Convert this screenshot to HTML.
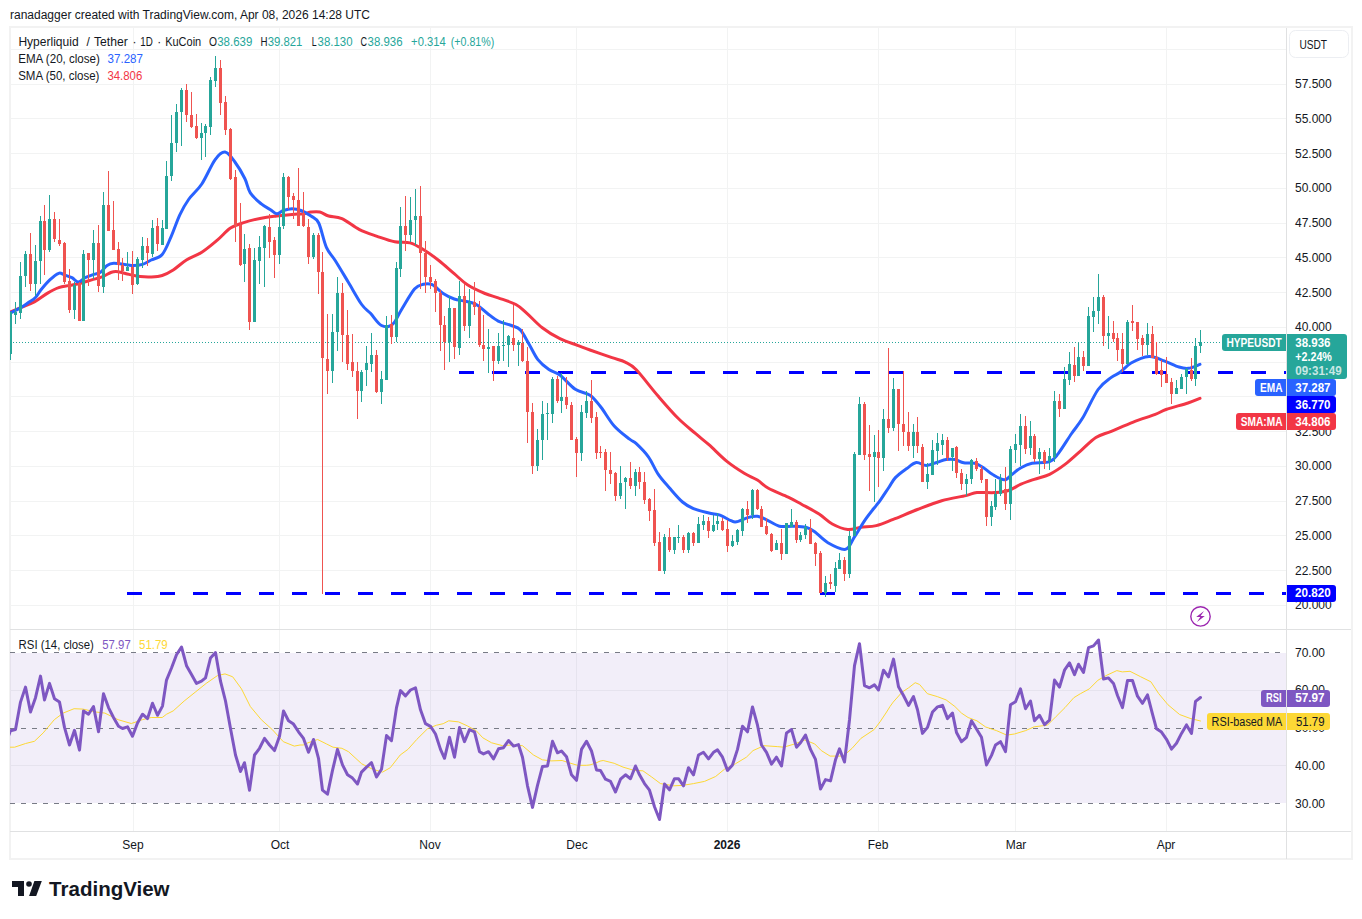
<!DOCTYPE html>
<html><head><meta charset="utf-8"><style>
*{margin:0;padding:0;box-sizing:border-box}
html,body{width:1362px;height:919px;background:#fff;overflow:hidden;font-family:"Liberation Sans",sans-serif;color:#131722}
.abs{position:absolute;white-space:nowrap}
#frame{position:absolute;left:9px;top:26px;width:1344px;height:834px;border:2px solid #f2f2f2}
svg{position:absolute;left:0;top:0}
.ax{position:absolute;left:1295px;font-size:12px;height:16px;line-height:16px;color:#131722}
.lb{position:absolute;font-size:12px;line-height:16px;text-align:center;white-space:nowrap}
.lg{position:absolute;font-size:12px;line-height:16px;white-space:nowrap;color:#131722}
.tm{position:absolute;top:837px;font-size:12px;line-height:16px;white-space:nowrap;transform:translateX(-50%)}
</style></head><body>
<div class="abs" style="left:10px;top:7px;font-size:12px;line-height:16px;color:#131722">ranadagger created with TradingView.com, Apr 08, 2026 14:28 UTC</div>
<div id="frame"></div>
<svg width="1362" height="919" viewBox="0 0 1362 919" shape-rendering="auto">
<defs><clipPath id="cm"><rect x="10" y="28" width="1276" height="601"/></clipPath><clipPath id="cr"><rect x="10" y="630" width="1276" height="201"/></clipPath></defs>
<line x1="133.5" y1="28" x2="133.5" y2="831" stroke="#f2f3f3" stroke-width="1"/>
<line x1="279.5" y1="28" x2="279.5" y2="831" stroke="#f2f3f3" stroke-width="1"/>
<line x1="430.5" y1="28" x2="430.5" y2="831" stroke="#f2f3f3" stroke-width="1"/>
<line x1="576.5" y1="28" x2="576.5" y2="831" stroke="#f2f3f3" stroke-width="1"/>
<line x1="727.5" y1="28" x2="727.5" y2="831" stroke="#f2f3f3" stroke-width="1"/>
<line x1="878.5" y1="28" x2="878.5" y2="831" stroke="#f2f3f3" stroke-width="1"/>
<line x1="1015.5" y1="28" x2="1015.5" y2="831" stroke="#f2f3f3" stroke-width="1"/>
<line x1="1166.5" y1="28" x2="1166.5" y2="831" stroke="#f2f3f3" stroke-width="1"/>
<line x1="10" y1="605.5" x2="1286" y2="605.5" stroke="#f2f3f3" stroke-width="1"/>
<line x1="10" y1="570.5" x2="1286" y2="570.5" stroke="#f2f3f3" stroke-width="1"/>
<line x1="10" y1="535.5" x2="1286" y2="535.5" stroke="#f2f3f3" stroke-width="1"/>
<line x1="10" y1="501.5" x2="1286" y2="501.5" stroke="#f2f3f3" stroke-width="1"/>
<line x1="10" y1="466.5" x2="1286" y2="466.5" stroke="#f2f3f3" stroke-width="1"/>
<line x1="10" y1="431.5" x2="1286" y2="431.5" stroke="#f2f3f3" stroke-width="1"/>
<line x1="10" y1="396.5" x2="1286" y2="396.5" stroke="#f2f3f3" stroke-width="1"/>
<line x1="10" y1="362.5" x2="1286" y2="362.5" stroke="#f2f3f3" stroke-width="1"/>
<line x1="10" y1="327.5" x2="1286" y2="327.5" stroke="#f2f3f3" stroke-width="1"/>
<line x1="10" y1="292.5" x2="1286" y2="292.5" stroke="#f2f3f3" stroke-width="1"/>
<line x1="10" y1="257.5" x2="1286" y2="257.5" stroke="#f2f3f3" stroke-width="1"/>
<line x1="10" y1="223.5" x2="1286" y2="223.5" stroke="#f2f3f3" stroke-width="1"/>
<line x1="10" y1="188.5" x2="1286" y2="188.5" stroke="#f2f3f3" stroke-width="1"/>
<line x1="10" y1="153.5" x2="1286" y2="153.5" stroke="#f2f3f3" stroke-width="1"/>
<line x1="10" y1="118.5" x2="1286" y2="118.5" stroke="#f2f3f3" stroke-width="1"/>
<line x1="10" y1="84.5" x2="1286" y2="84.5" stroke="#f2f3f3" stroke-width="1"/>
<line x1="10" y1="49.5" x2="1286" y2="49.5" stroke="#f2f3f3" stroke-width="1"/>
<line x1="10" y1="690.5" x2="1286" y2="690.5" stroke="#f2f3f3" stroke-width="1"/>
<line x1="10" y1="765.5" x2="1286" y2="765.5" stroke="#f2f3f3" stroke-width="1"/>
<rect x="10" y="653" width="1276" height="150" fill="#7e57c2" fill-opacity="0.1"/>
<line x1="10" y1="652.5" x2="1286" y2="652.5" stroke="#787b86" stroke-width="1" stroke-dasharray="5,6"/>
<line x1="10" y1="728.5" x2="1286" y2="728.5" stroke="#787b86" stroke-width="1" stroke-dasharray="5,6"/>
<line x1="10" y1="803.5" x2="1286" y2="803.5" stroke="#787b86" stroke-width="1" stroke-dasharray="5,6"/>
<line x1="10" y1="629.5" x2="1351" y2="629.5" stroke="#e0e1e2" stroke-width="1"/>
<line x1="10" y1="831.5" x2="1351" y2="831.5" stroke="#e0e1e2" stroke-width="1"/>
<line x1="1286.5" y1="28" x2="1286.5" y2="859" stroke="#e0e1e2" stroke-width="1"/>
<g clip-path="url(#cm)">
<line x1="10" y1="342.5" x2="1222" y2="342.5" stroke="#26a69a" stroke-width="1" stroke-dasharray="1,2"/>
<line x1="459" y1="372.5" x2="1286" y2="372.5" stroke="#0000ff" stroke-width="3" stroke-dasharray="15,18"/>
<line x1="127" y1="593.5" x2="1286" y2="593.5" stroke="#0000ff" stroke-width="3" stroke-dasharray="15,18"/>
<path d="M4.00,314.50 C5.10,314.05 7.73,312.98 10.60,311.80 C13.47,310.62 17.23,309.05 21.20,307.40 C25.17,305.75 30.00,304.28 34.40,301.90 C38.80,299.52 43.55,295.48 47.60,293.10 C51.65,290.72 55.02,288.88 58.70,287.60 C62.38,286.32 66.03,286.13 69.70,285.40 C73.37,284.67 77.03,284.12 80.70,283.20 C84.37,282.28 88.03,281.00 91.70,279.90 C95.37,278.80 99.40,277.88 102.70,276.60 C106.00,275.32 108.93,273.02 111.50,272.20 C114.07,271.38 115.17,271.33 118.10,271.70 C121.03,272.07 125.42,273.58 129.10,274.40 C132.78,275.22 136.52,276.17 140.20,276.60 C143.88,277.03 147.53,277.18 151.20,277.00 C154.87,276.82 158.53,276.67 162.20,275.50 C165.87,274.33 169.17,272.58 173.20,270.00 C177.23,267.42 181.63,262.95 186.40,260.00 C191.17,257.05 196.65,255.60 201.80,252.30 C206.95,249.00 212.52,244.23 217.30,240.20 C222.08,236.17 226.10,231.03 230.50,228.10 C234.90,225.17 238.57,224.25 243.70,222.60 C248.83,220.95 255.80,219.30 261.30,218.20 C266.80,217.10 271.57,216.63 276.70,216.00 C281.83,215.37 287.68,214.77 292.10,214.40 C296.52,214.03 300.05,214.20 303.20,213.80 C306.35,213.40 308.23,212.30 311.00,212.00 C313.77,211.70 316.87,211.33 319.80,212.00 C322.73,212.67 324.92,214.90 328.60,216.00 C332.28,217.10 336.75,216.33 341.90,218.60 C347.05,220.87 353.63,226.65 359.50,229.60 C365.37,232.55 371.23,234.27 377.10,236.30 C382.97,238.33 389.20,240.70 394.70,241.80 C400.20,242.90 405.33,241.62 410.10,242.90 C414.87,244.18 418.52,246.57 423.30,249.50 C428.08,252.43 433.65,256.47 438.80,260.50 C443.95,264.53 449.43,269.67 454.20,273.70 C458.97,277.73 462.27,281.40 467.40,284.70 C472.53,288.00 479.87,291.30 485.00,293.50 C490.13,295.70 493.05,296.07 498.20,297.90 C503.35,299.73 511.12,301.93 515.90,304.50 C520.68,307.07 522.50,309.43 526.90,313.30 C531.30,317.17 536.80,323.47 542.30,327.70 C547.80,331.93 554.03,335.77 559.90,338.70 C565.77,341.63 572.48,343.42 577.50,345.30 C582.52,347.18 584.25,347.93 590.00,350.00 C595.75,352.07 606.13,355.68 612.00,357.70 C617.87,359.72 621.15,360.08 625.20,362.10 C629.25,364.12 630.78,364.10 636.30,369.80 C641.82,375.50 651.33,388.22 658.30,396.30 C665.27,404.38 671.87,412.07 678.10,418.30 C684.33,424.53 690.57,429.30 695.70,433.70 C700.83,438.10 703.75,440.12 708.90,444.70 C714.05,449.28 720.72,456.43 726.60,461.20 C732.48,465.97 739.07,470.17 744.20,473.30 C749.33,476.43 753.37,477.50 757.40,480.00 C761.43,482.50 763.27,485.45 768.40,488.30 C773.53,491.15 782.68,494.45 788.20,497.10 C793.72,499.75 796.35,501.37 801.50,504.20 C806.65,507.03 813.97,510.80 819.10,514.10 C824.23,517.40 827.53,521.43 832.30,524.00 C837.07,526.57 842.93,528.95 847.70,529.50 C852.47,530.05 856.13,527.95 860.90,527.30 C865.67,526.65 870.92,526.92 876.30,525.60 C881.68,524.28 886.35,522.08 893.20,519.40 C900.05,516.72 909.32,512.62 917.40,509.50 C925.48,506.38 933.62,503.02 941.70,500.70 C949.78,498.38 960.03,496.95 965.90,495.60 C971.77,494.25 972.13,493.10 976.90,492.60 C981.67,492.10 989.35,492.90 994.50,492.60 C999.65,492.30 1003.38,492.20 1007.80,490.80 C1012.22,489.40 1016.60,486.12 1021.00,484.20 C1025.40,482.28 1029.43,480.95 1034.20,479.30 C1038.97,477.65 1044.47,476.78 1049.60,474.30 C1054.73,471.82 1059.87,468.27 1065.00,464.40 C1070.13,460.53 1075.25,455.58 1080.40,451.10 C1085.55,446.62 1090.75,440.80 1095.90,437.50 C1101.05,434.20 1105.07,433.87 1111.30,431.30 C1117.53,428.73 1125.97,424.92 1133.30,422.10 C1140.63,419.28 1149.85,416.50 1155.30,414.40 C1160.75,412.30 1160.55,411.40 1166.00,409.50 C1171.45,407.60 1182.33,404.85 1188.00,403.00 C1193.67,401.15 1198.00,399.17 1200.00,398.40" fill="none" stroke="#f23645" stroke-width="3" stroke-linejoin="round" stroke-linecap="round"/>
<path d="M4.00,316.00 C5.10,315.48 7.73,314.33 10.60,312.90 C13.47,311.47 18.33,309.05 21.20,307.40 C24.07,305.75 25.42,304.65 27.80,303.00 C30.18,301.35 33.30,299.70 35.50,297.50 C37.70,295.30 38.62,292.73 41.00,289.80 C43.38,286.87 46.85,282.65 49.80,279.90 C52.75,277.15 56.30,274.15 58.70,273.30 C61.10,272.45 62.00,274.07 64.20,274.80 C66.40,275.53 69.52,276.50 71.90,277.70 C74.28,278.90 76.30,282.00 78.50,282.00 C80.70,282.00 82.53,278.97 85.10,277.70 C87.67,276.43 91.33,275.32 93.90,274.40 C96.47,273.48 98.30,273.68 100.50,272.20 C102.70,270.72 104.90,266.98 107.10,265.50 C109.30,264.02 110.77,263.48 113.70,263.30 C116.63,263.12 121.38,264.03 124.70,264.40 C128.02,264.77 130.65,265.50 133.60,265.50 C136.55,265.50 139.47,265.32 142.40,264.40 C145.33,263.48 147.90,261.65 151.20,260.00 C154.50,258.35 158.90,258.35 162.20,254.50 C165.50,250.65 168.07,243.50 171.00,236.90 C173.93,230.30 176.87,221.13 179.80,214.90 C182.73,208.67 184.93,204.65 188.60,199.50 C192.27,194.35 197.40,190.62 201.80,184.00 C206.20,177.38 211.13,165.12 215.00,159.80 C218.87,154.48 221.68,151.73 225.00,152.10 C228.32,152.47 231.60,157.60 234.90,162.00 C238.20,166.40 242.23,173.35 244.80,178.50 C247.37,183.65 247.55,188.67 250.30,192.90 C253.05,197.13 258.00,201.15 261.30,203.90 C264.60,206.65 267.53,207.75 270.10,209.40 C272.67,211.05 274.50,213.62 276.70,213.80 C278.90,213.98 280.73,211.35 283.30,210.50 C285.87,209.65 289.15,208.70 292.10,208.70 C295.05,208.70 297.85,209.28 301.00,210.50 C304.15,211.72 308.05,213.92 311.00,216.00 C313.95,218.08 316.13,217.78 318.70,223.00 C321.27,228.22 323.65,241.05 326.40,247.30 C329.15,253.55 331.52,254.63 335.20,260.50 C338.88,266.37 344.08,275.17 348.50,282.50 C352.92,289.83 358.03,299.37 361.70,304.50 C365.37,309.63 367.20,309.80 370.50,313.30 C373.80,316.80 377.83,323.65 381.50,325.50 C385.17,327.35 389.20,326.98 392.50,324.40 C395.80,321.82 397.63,315.88 401.30,310.00 C404.97,304.12 410.83,293.38 414.50,289.10 C418.17,284.82 420.35,285.03 423.30,284.30 C426.25,283.57 428.88,283.17 432.20,284.70 C435.52,286.23 439.53,291.12 443.20,293.50 C446.87,295.88 450.53,297.72 454.20,299.00 C457.87,300.28 461.53,300.28 465.20,301.20 C468.87,302.12 472.53,302.48 476.20,304.50 C479.87,306.52 483.53,310.53 487.20,313.30 C490.87,316.07 494.15,319.07 498.20,321.10 C502.25,323.13 507.82,324.03 511.50,325.50 C515.18,326.97 517.37,326.78 520.30,329.90 C523.23,333.02 526.17,339.25 529.10,344.20 C532.03,349.15 534.60,355.38 537.90,359.60 C541.20,363.82 545.23,366.93 548.90,369.50 C552.57,372.07 555.50,371.70 559.90,375.00 C564.30,378.30 570.28,385.93 575.30,389.30 C580.32,392.67 585.72,392.20 590.00,395.20 C594.28,398.20 596.97,402.17 601.00,407.30 C605.03,412.43 609.43,420.68 614.20,426.00 C618.97,431.32 625.92,436.27 629.60,439.20 C633.28,442.13 633.17,440.67 636.30,443.60 C639.43,446.53 644.73,451.67 648.40,456.80 C652.07,461.93 654.82,469.25 658.30,474.40 C661.78,479.55 665.27,483.10 669.30,487.70 C673.33,492.30 678.47,498.52 682.50,502.00 C686.53,505.48 689.10,506.77 693.50,508.60 C697.90,510.43 704.48,511.90 708.90,513.00 C713.32,514.10 716.32,513.92 720.00,515.20 C723.68,516.48 728.25,519.60 731.00,520.70 C733.75,521.80 733.57,522.35 736.50,521.80 C739.43,521.25 745.12,518.32 748.60,517.40 C752.08,516.48 754.47,515.93 757.40,516.30 C760.33,516.67 762.53,517.95 766.20,519.60 C769.87,521.25 775.00,525.10 779.40,526.20 C783.80,527.30 788.18,526.02 792.60,526.20 C797.02,526.38 802.22,526.38 805.90,527.30 C809.58,528.22 811.03,529.13 814.70,531.70 C818.37,534.27 822.77,539.77 827.90,542.70 C833.03,545.63 841.10,550.22 845.50,549.30 C849.90,548.38 851.00,542.15 854.30,537.20 C857.60,532.25 861.63,524.92 865.30,519.60 C868.97,514.28 873.85,508.45 876.30,505.30 C878.75,502.15 877.92,503.67 880.00,500.70 C882.08,497.73 886.23,491.35 888.80,487.50 C891.37,483.65 892.47,480.72 895.40,477.60 C898.33,474.48 902.92,471.30 906.40,468.80 C909.88,466.30 912.98,463.15 916.30,462.60 C919.62,462.05 922.80,465.57 926.30,465.50 C929.80,465.43 934.00,463.20 937.30,462.20 C940.60,461.20 943.17,459.95 946.10,459.50 C949.03,459.05 951.97,458.95 954.90,459.50 C957.83,460.05 960.40,462.17 963.70,462.80 C967.00,463.43 971.40,462.48 974.70,463.30 C978.00,464.12 980.57,465.87 983.50,467.70 C986.43,469.53 988.82,472.28 992.30,474.30 C995.78,476.32 1001.08,479.80 1004.40,479.80 C1007.72,479.80 1009.43,476.32 1012.20,474.30 C1014.97,472.28 1017.70,469.53 1021.00,467.70 C1024.30,465.87 1027.23,464.30 1032.00,463.30 C1036.77,462.30 1045.20,463.37 1049.60,461.70 C1054.00,460.03 1054.73,458.00 1058.40,453.30 C1062.07,448.60 1067.57,439.37 1071.60,433.50 C1075.63,427.63 1078.18,425.43 1082.60,418.10 C1087.02,410.77 1093.32,396.28 1098.10,389.50 C1102.88,382.72 1107.63,380.27 1111.30,377.40 C1114.97,374.53 1116.80,374.70 1120.10,372.30 C1123.40,369.90 1126.28,365.62 1131.10,363.00 C1135.92,360.38 1143.50,356.97 1149.00,356.60 C1154.50,356.23 1159.10,359.07 1164.10,360.80 C1169.10,362.53 1174.97,365.75 1179.00,367.00 C1183.03,368.25 1184.80,368.73 1188.30,368.30 C1191.80,367.87 1198.05,365.05 1200.00,364.40" fill="none" stroke="#2962ff" stroke-width="3" stroke-linejoin="round" stroke-linecap="round"/>
<rect x="10" y="312" width="1" height="48" fill="#26a69a"/>
<rect x="9" y="312" width="3" height="42" fill="#26a69a"/>
<rect x="15" y="302" width="1" height="22" fill="#26a69a"/>
<rect x="14" y="312" width="3" height="3" fill="#26a69a"/>
<rect x="20" y="262" width="1" height="57" fill="#26a69a"/>
<rect x="19" y="276" width="3" height="37" fill="#26a69a"/>
<rect x="25" y="251" width="1" height="36" fill="#26a69a"/>
<rect x="24" y="254" width="3" height="22" fill="#26a69a"/>
<rect x="30" y="233" width="1" height="58" fill="#ef5350"/>
<rect x="29" y="254" width="3" height="30" fill="#ef5350"/>
<rect x="35" y="245" width="1" height="51" fill="#26a69a"/>
<rect x="34" y="261" width="3" height="23" fill="#26a69a"/>
<rect x="40" y="216" width="1" height="68" fill="#26a69a"/>
<rect x="39" y="221" width="3" height="40" fill="#26a69a"/>
<rect x="44" y="205" width="1" height="70" fill="#ef5350"/>
<rect x="43" y="221" width="3" height="29" fill="#ef5350"/>
<rect x="49" y="195" width="1" height="57" fill="#26a69a"/>
<rect x="48" y="219" width="3" height="31" fill="#26a69a"/>
<rect x="54" y="212" width="1" height="30" fill="#ef5350"/>
<rect x="53" y="219" width="3" height="20" fill="#ef5350"/>
<rect x="59" y="219" width="1" height="27" fill="#ef5350"/>
<rect x="58" y="240" width="3" height="4" fill="#ef5350"/>
<rect x="64" y="242" width="1" height="42" fill="#ef5350"/>
<rect x="63" y="243" width="3" height="39" fill="#ef5350"/>
<rect x="69" y="269" width="1" height="44" fill="#ef5350"/>
<rect x="68" y="281" width="3" height="29" fill="#ef5350"/>
<rect x="74" y="282" width="1" height="37" fill="#26a69a"/>
<rect x="73" y="285" width="3" height="25" fill="#26a69a"/>
<rect x="79" y="282" width="1" height="39" fill="#ef5350"/>
<rect x="78" y="283" width="3" height="38" fill="#ef5350"/>
<rect x="83" y="250" width="1" height="71" fill="#26a69a"/>
<rect x="82" y="254" width="3" height="67" fill="#26a69a"/>
<rect x="88" y="253" width="1" height="33" fill="#ef5350"/>
<rect x="87" y="253" width="3" height="7" fill="#ef5350"/>
<rect x="93" y="230" width="1" height="49" fill="#26a69a"/>
<rect x="92" y="243" width="3" height="17" fill="#26a69a"/>
<rect x="98" y="225" width="1" height="67" fill="#ef5350"/>
<rect x="97" y="243" width="3" height="43" fill="#ef5350"/>
<rect x="103" y="192" width="1" height="101" fill="#26a69a"/>
<rect x="102" y="205" width="3" height="82" fill="#26a69a"/>
<rect x="108" y="171" width="1" height="60" fill="#ef5350"/>
<rect x="107" y="205" width="3" height="26" fill="#ef5350"/>
<rect x="113" y="201" width="1" height="49" fill="#ef5350"/>
<rect x="112" y="230" width="3" height="20" fill="#ef5350"/>
<rect x="118" y="242" width="1" height="38" fill="#ef5350"/>
<rect x="117" y="249" width="3" height="16" fill="#ef5350"/>
<rect x="122" y="258" width="1" height="23" fill="#ef5350"/>
<rect x="121" y="265" width="3" height="6" fill="#ef5350"/>
<rect x="127" y="252" width="1" height="19" fill="#26a69a"/>
<rect x="126" y="267" width="3" height="4" fill="#26a69a"/>
<rect x="132" y="251" width="1" height="43" fill="#ef5350"/>
<rect x="131" y="267" width="3" height="18" fill="#ef5350"/>
<rect x="137" y="257" width="1" height="28" fill="#26a69a"/>
<rect x="136" y="259" width="3" height="25" fill="#26a69a"/>
<rect x="142" y="237" width="1" height="31" fill="#26a69a"/>
<rect x="141" y="246" width="3" height="14" fill="#26a69a"/>
<rect x="147" y="238" width="1" height="28" fill="#ef5350"/>
<rect x="146" y="246" width="3" height="7" fill="#ef5350"/>
<rect x="152" y="220" width="1" height="37" fill="#26a69a"/>
<rect x="151" y="228" width="3" height="26" fill="#26a69a"/>
<rect x="157" y="218" width="1" height="33" fill="#ef5350"/>
<rect x="156" y="226" width="3" height="18" fill="#ef5350"/>
<rect x="162" y="220" width="1" height="25" fill="#26a69a"/>
<rect x="161" y="228" width="3" height="17" fill="#26a69a"/>
<rect x="166" y="161" width="1" height="68" fill="#26a69a"/>
<rect x="165" y="176" width="3" height="53" fill="#26a69a"/>
<rect x="171" y="115" width="1" height="66" fill="#26a69a"/>
<rect x="170" y="143" width="3" height="33" fill="#26a69a"/>
<rect x="176" y="104" width="1" height="48" fill="#26a69a"/>
<rect x="175" y="112" width="3" height="31" fill="#26a69a"/>
<rect x="181" y="88" width="1" height="58" fill="#26a69a"/>
<rect x="180" y="90" width="3" height="22" fill="#26a69a"/>
<rect x="186" y="84" width="1" height="38" fill="#ef5350"/>
<rect x="185" y="90" width="3" height="25" fill="#ef5350"/>
<rect x="191" y="92" width="1" height="36" fill="#ef5350"/>
<rect x="190" y="115" width="3" height="12" fill="#ef5350"/>
<rect x="196" y="114" width="1" height="25" fill="#ef5350"/>
<rect x="195" y="126" width="3" height="12" fill="#ef5350"/>
<rect x="201" y="123" width="1" height="37" fill="#26a69a"/>
<rect x="200" y="133" width="3" height="5" fill="#26a69a"/>
<rect x="205" y="124" width="1" height="33" fill="#26a69a"/>
<rect x="204" y="126" width="3" height="7" fill="#26a69a"/>
<rect x="210" y="77" width="1" height="58" fill="#26a69a"/>
<rect x="209" y="80" width="3" height="47" fill="#26a69a"/>
<rect x="215" y="56" width="1" height="31" fill="#26a69a"/>
<rect x="214" y="68" width="3" height="13" fill="#26a69a"/>
<rect x="220" y="60" width="1" height="55" fill="#ef5350"/>
<rect x="219" y="68" width="3" height="35" fill="#ef5350"/>
<rect x="225" y="96" width="1" height="39" fill="#ef5350"/>
<rect x="224" y="102" width="3" height="28" fill="#ef5350"/>
<rect x="230" y="128" width="1" height="52" fill="#ef5350"/>
<rect x="229" y="129" width="3" height="50" fill="#ef5350"/>
<rect x="235" y="170" width="1" height="72" fill="#ef5350"/>
<rect x="234" y="177" width="3" height="49" fill="#ef5350"/>
<rect x="240" y="203" width="1" height="63" fill="#ef5350"/>
<rect x="239" y="225" width="3" height="40" fill="#ef5350"/>
<rect x="244" y="234" width="1" height="48" fill="#26a69a"/>
<rect x="243" y="249" width="3" height="15" fill="#26a69a"/>
<rect x="249" y="244" width="1" height="86" fill="#ef5350"/>
<rect x="248" y="248" width="3" height="74" fill="#ef5350"/>
<rect x="254" y="248" width="1" height="74" fill="#26a69a"/>
<rect x="253" y="260" width="3" height="62" fill="#26a69a"/>
<rect x="259" y="236" width="1" height="48" fill="#26a69a"/>
<rect x="258" y="247" width="3" height="14" fill="#26a69a"/>
<rect x="264" y="225" width="1" height="62" fill="#26a69a"/>
<rect x="263" y="226" width="3" height="22" fill="#26a69a"/>
<rect x="269" y="214" width="1" height="44" fill="#ef5350"/>
<rect x="268" y="227" width="3" height="15" fill="#ef5350"/>
<rect x="274" y="237" width="1" height="41" fill="#ef5350"/>
<rect x="273" y="240" width="3" height="15" fill="#ef5350"/>
<rect x="279" y="215" width="1" height="49" fill="#26a69a"/>
<rect x="278" y="227" width="3" height="28" fill="#26a69a"/>
<rect x="283" y="173" width="1" height="56" fill="#26a69a"/>
<rect x="282" y="177" width="3" height="49" fill="#26a69a"/>
<rect x="288" y="176" width="1" height="33" fill="#ef5350"/>
<rect x="287" y="177" width="3" height="20" fill="#ef5350"/>
<rect x="293" y="193" width="1" height="26" fill="#ef5350"/>
<rect x="292" y="196" width="3" height="4" fill="#ef5350"/>
<rect x="298" y="168" width="1" height="58" fill="#ef5350"/>
<rect x="297" y="200" width="3" height="26" fill="#ef5350"/>
<rect x="303" y="192" width="1" height="35" fill="#ef5350"/>
<rect x="302" y="213" width="3" height="13" fill="#ef5350"/>
<rect x="308" y="219" width="1" height="45" fill="#ef5350"/>
<rect x="307" y="227" width="3" height="30" fill="#ef5350"/>
<rect x="313" y="233" width="1" height="26" fill="#26a69a"/>
<rect x="312" y="235" width="3" height="22" fill="#26a69a"/>
<rect x="318" y="233" width="1" height="61" fill="#ef5350"/>
<rect x="317" y="235" width="3" height="37" fill="#ef5350"/>
<rect x="322" y="252" width="1" height="342" fill="#ef5350"/>
<rect x="321" y="272" width="3" height="86" fill="#ef5350"/>
<rect x="327" y="314" width="1" height="80" fill="#ef5350"/>
<rect x="326" y="359" width="3" height="12" fill="#ef5350"/>
<rect x="332" y="314" width="1" height="69" fill="#26a69a"/>
<rect x="331" y="332" width="3" height="39" fill="#26a69a"/>
<rect x="337" y="277" width="1" height="74" fill="#26a69a"/>
<rect x="336" y="293" width="3" height="39" fill="#26a69a"/>
<rect x="342" y="283" width="1" height="79" fill="#ef5350"/>
<rect x="341" y="293" width="3" height="42" fill="#ef5350"/>
<rect x="347" y="310" width="1" height="60" fill="#ef5350"/>
<rect x="346" y="335" width="3" height="29" fill="#ef5350"/>
<rect x="352" y="334" width="1" height="43" fill="#ef5350"/>
<rect x="351" y="362" width="3" height="9" fill="#ef5350"/>
<rect x="357" y="362" width="1" height="57" fill="#ef5350"/>
<rect x="356" y="371" width="3" height="20" fill="#ef5350"/>
<rect x="361" y="370" width="1" height="32" fill="#26a69a"/>
<rect x="360" y="372" width="3" height="19" fill="#26a69a"/>
<rect x="366" y="346" width="1" height="40" fill="#26a69a"/>
<rect x="365" y="363" width="3" height="7" fill="#26a69a"/>
<rect x="371" y="333" width="1" height="39" fill="#26a69a"/>
<rect x="370" y="355" width="3" height="9" fill="#26a69a"/>
<rect x="376" y="350" width="1" height="43" fill="#ef5350"/>
<rect x="375" y="355" width="3" height="37" fill="#ef5350"/>
<rect x="381" y="371" width="1" height="33" fill="#26a69a"/>
<rect x="380" y="379" width="3" height="13" fill="#26a69a"/>
<rect x="386" y="316" width="1" height="64" fill="#26a69a"/>
<rect x="385" y="325" width="3" height="55" fill="#26a69a"/>
<rect x="391" y="315" width="1" height="29" fill="#ef5350"/>
<rect x="390" y="324" width="3" height="13" fill="#ef5350"/>
<rect x="396" y="262" width="1" height="80" fill="#26a69a"/>
<rect x="395" y="268" width="3" height="69" fill="#26a69a"/>
<rect x="400" y="207" width="1" height="70" fill="#26a69a"/>
<rect x="399" y="226" width="3" height="43" fill="#26a69a"/>
<rect x="405" y="196" width="1" height="55" fill="#ef5350"/>
<rect x="404" y="226" width="3" height="9" fill="#ef5350"/>
<rect x="410" y="197" width="1" height="45" fill="#26a69a"/>
<rect x="409" y="220" width="3" height="15" fill="#26a69a"/>
<rect x="415" y="189" width="1" height="56" fill="#26a69a"/>
<rect x="414" y="216" width="3" height="4" fill="#26a69a"/>
<rect x="420" y="186" width="1" height="103" fill="#ef5350"/>
<rect x="419" y="216" width="3" height="37" fill="#ef5350"/>
<rect x="425" y="241" width="1" height="52" fill="#ef5350"/>
<rect x="424" y="253" width="3" height="24" fill="#ef5350"/>
<rect x="430" y="265" width="1" height="24" fill="#ef5350"/>
<rect x="429" y="277" width="3" height="5" fill="#ef5350"/>
<rect x="435" y="279" width="1" height="33" fill="#ef5350"/>
<rect x="434" y="281" width="3" height="12" fill="#ef5350"/>
<rect x="440" y="290" width="1" height="61" fill="#ef5350"/>
<rect x="439" y="293" width="3" height="32" fill="#ef5350"/>
<rect x="444" y="316" width="1" height="54" fill="#ef5350"/>
<rect x="443" y="325" width="3" height="17" fill="#ef5350"/>
<rect x="449" y="296" width="1" height="66" fill="#26a69a"/>
<rect x="448" y="308" width="3" height="34" fill="#26a69a"/>
<rect x="454" y="308" width="1" height="51" fill="#ef5350"/>
<rect x="453" y="308" width="3" height="39" fill="#ef5350"/>
<rect x="459" y="281" width="1" height="74" fill="#26a69a"/>
<rect x="458" y="296" width="3" height="52" fill="#26a69a"/>
<rect x="464" y="284" width="1" height="47" fill="#ef5350"/>
<rect x="463" y="296" width="3" height="30" fill="#ef5350"/>
<rect x="469" y="289" width="1" height="49" fill="#26a69a"/>
<rect x="468" y="302" width="3" height="24" fill="#26a69a"/>
<rect x="474" y="282" width="1" height="33" fill="#ef5350"/>
<rect x="473" y="302" width="3" height="5" fill="#ef5350"/>
<rect x="479" y="301" width="1" height="46" fill="#ef5350"/>
<rect x="478" y="307" width="3" height="38" fill="#ef5350"/>
<rect x="483" y="315" width="1" height="46" fill="#ef5350"/>
<rect x="482" y="345" width="3" height="4" fill="#ef5350"/>
<rect x="488" y="329" width="1" height="44" fill="#26a69a"/>
<rect x="487" y="347" width="3" height="2" fill="#26a69a"/>
<rect x="493" y="346" width="1" height="35" fill="#ef5350"/>
<rect x="492" y="346" width="3" height="15" fill="#ef5350"/>
<rect x="498" y="333" width="1" height="31" fill="#26a69a"/>
<rect x="497" y="346" width="3" height="15" fill="#26a69a"/>
<rect x="503" y="320" width="1" height="41" fill="#26a69a"/>
<rect x="502" y="345" width="3" height="1" fill="#26a69a"/>
<rect x="508" y="335" width="1" height="32" fill="#26a69a"/>
<rect x="507" y="336" width="3" height="9" fill="#26a69a"/>
<rect x="513" y="305" width="1" height="46" fill="#ef5350"/>
<rect x="512" y="338" width="3" height="7" fill="#ef5350"/>
<rect x="518" y="340" width="1" height="26" fill="#26a69a"/>
<rect x="517" y="342" width="3" height="3" fill="#26a69a"/>
<rect x="522" y="329" width="1" height="33" fill="#ef5350"/>
<rect x="521" y="343" width="3" height="18" fill="#ef5350"/>
<rect x="527" y="347" width="1" height="96" fill="#ef5350"/>
<rect x="526" y="361" width="3" height="51" fill="#ef5350"/>
<rect x="532" y="403" width="1" height="71" fill="#ef5350"/>
<rect x="531" y="412" width="3" height="54" fill="#ef5350"/>
<rect x="537" y="429" width="1" height="42" fill="#26a69a"/>
<rect x="536" y="440" width="3" height="26" fill="#26a69a"/>
<rect x="542" y="401" width="1" height="59" fill="#26a69a"/>
<rect x="541" y="414" width="3" height="26" fill="#26a69a"/>
<rect x="547" y="403" width="1" height="37" fill="#26a69a"/>
<rect x="546" y="413" width="3" height="1" fill="#26a69a"/>
<rect x="552" y="377" width="1" height="46" fill="#26a69a"/>
<rect x="551" y="379" width="3" height="35" fill="#26a69a"/>
<rect x="557" y="376" width="1" height="27" fill="#ef5350"/>
<rect x="556" y="379" width="3" height="22" fill="#ef5350"/>
<rect x="561" y="373" width="1" height="40" fill="#26a69a"/>
<rect x="560" y="397" width="3" height="4" fill="#26a69a"/>
<rect x="566" y="377" width="1" height="32" fill="#ef5350"/>
<rect x="565" y="397" width="3" height="8" fill="#ef5350"/>
<rect x="571" y="402" width="1" height="38" fill="#ef5350"/>
<rect x="570" y="405" width="3" height="35" fill="#ef5350"/>
<rect x="576" y="437" width="1" height="40" fill="#ef5350"/>
<rect x="575" y="439" width="3" height="14" fill="#ef5350"/>
<rect x="581" y="405" width="1" height="56" fill="#26a69a"/>
<rect x="580" y="412" width="3" height="41" fill="#26a69a"/>
<rect x="586" y="391" width="1" height="27" fill="#26a69a"/>
<rect x="585" y="401" width="3" height="12" fill="#26a69a"/>
<rect x="591" y="380" width="1" height="43" fill="#ef5350"/>
<rect x="590" y="401" width="3" height="17" fill="#ef5350"/>
<rect x="596" y="412" width="1" height="47" fill="#ef5350"/>
<rect x="595" y="417" width="3" height="36" fill="#ef5350"/>
<rect x="600" y="446" width="1" height="12" fill="#ef5350"/>
<rect x="599" y="452" width="3" height="1" fill="#ef5350"/>
<rect x="605" y="449" width="1" height="42" fill="#ef5350"/>
<rect x="604" y="452" width="3" height="18" fill="#ef5350"/>
<rect x="610" y="452" width="1" height="32" fill="#ef5350"/>
<rect x="609" y="470" width="3" height="4" fill="#ef5350"/>
<rect x="615" y="472" width="1" height="29" fill="#ef5350"/>
<rect x="614" y="473" width="3" height="23" fill="#ef5350"/>
<rect x="620" y="466" width="1" height="33" fill="#26a69a"/>
<rect x="619" y="483" width="3" height="13" fill="#26a69a"/>
<rect x="625" y="477" width="1" height="32" fill="#26a69a"/>
<rect x="624" y="478" width="3" height="4" fill="#26a69a"/>
<rect x="630" y="462" width="1" height="27" fill="#ef5350"/>
<rect x="629" y="478" width="3" height="8" fill="#ef5350"/>
<rect x="635" y="469" width="1" height="27" fill="#26a69a"/>
<rect x="634" y="472" width="3" height="14" fill="#26a69a"/>
<rect x="639" y="467" width="1" height="22" fill="#ef5350"/>
<rect x="638" y="472" width="3" height="10" fill="#ef5350"/>
<rect x="644" y="472" width="1" height="32" fill="#ef5350"/>
<rect x="643" y="482" width="3" height="18" fill="#ef5350"/>
<rect x="649" y="498" width="1" height="23" fill="#ef5350"/>
<rect x="648" y="499" width="3" height="12" fill="#ef5350"/>
<rect x="654" y="489" width="1" height="57" fill="#ef5350"/>
<rect x="653" y="510" width="3" height="33" fill="#ef5350"/>
<rect x="659" y="532" width="1" height="39" fill="#ef5350"/>
<rect x="658" y="542" width="3" height="29" fill="#ef5350"/>
<rect x="664" y="534" width="1" height="40" fill="#26a69a"/>
<rect x="663" y="537" width="3" height="34" fill="#26a69a"/>
<rect x="669" y="528" width="1" height="24" fill="#ef5350"/>
<rect x="668" y="537" width="3" height="13" fill="#ef5350"/>
<rect x="674" y="537" width="1" height="17" fill="#26a69a"/>
<rect x="673" y="537" width="3" height="13" fill="#26a69a"/>
<rect x="678" y="525" width="1" height="18" fill="#26a69a"/>
<rect x="677" y="537" width="3" height="1" fill="#26a69a"/>
<rect x="683" y="535" width="1" height="18" fill="#ef5350"/>
<rect x="682" y="537" width="3" height="13" fill="#ef5350"/>
<rect x="688" y="532" width="1" height="21" fill="#26a69a"/>
<rect x="687" y="533" width="3" height="17" fill="#26a69a"/>
<rect x="693" y="532" width="1" height="14" fill="#ef5350"/>
<rect x="692" y="533" width="3" height="10" fill="#ef5350"/>
<rect x="698" y="517" width="1" height="26" fill="#26a69a"/>
<rect x="697" y="524" width="3" height="19" fill="#26a69a"/>
<rect x="703" y="515" width="1" height="15" fill="#26a69a"/>
<rect x="702" y="521" width="3" height="4" fill="#26a69a"/>
<rect x="708" y="517" width="1" height="21" fill="#ef5350"/>
<rect x="707" y="521" width="3" height="10" fill="#ef5350"/>
<rect x="713" y="515" width="1" height="17" fill="#26a69a"/>
<rect x="712" y="525" width="3" height="6" fill="#26a69a"/>
<rect x="717" y="513" width="1" height="17" fill="#26a69a"/>
<rect x="716" y="521" width="3" height="3" fill="#26a69a"/>
<rect x="722" y="518" width="1" height="13" fill="#ef5350"/>
<rect x="721" y="521" width="3" height="9" fill="#ef5350"/>
<rect x="727" y="520" width="1" height="32" fill="#ef5350"/>
<rect x="726" y="529" width="3" height="17" fill="#ef5350"/>
<rect x="732" y="535" width="1" height="12" fill="#26a69a"/>
<rect x="731" y="541" width="3" height="5" fill="#26a69a"/>
<rect x="737" y="529" width="1" height="16" fill="#26a69a"/>
<rect x="736" y="530" width="3" height="12" fill="#26a69a"/>
<rect x="742" y="508" width="1" height="28" fill="#26a69a"/>
<rect x="741" y="509" width="3" height="22" fill="#26a69a"/>
<rect x="747" y="501" width="1" height="22" fill="#ef5350"/>
<rect x="746" y="509" width="3" height="6" fill="#ef5350"/>
<rect x="752" y="489" width="1" height="30" fill="#26a69a"/>
<rect x="751" y="490" width="3" height="25" fill="#26a69a"/>
<rect x="757" y="489" width="1" height="21" fill="#ef5350"/>
<rect x="756" y="490" width="3" height="19" fill="#ef5350"/>
<rect x="761" y="506" width="1" height="21" fill="#ef5350"/>
<rect x="760" y="509" width="3" height="18" fill="#ef5350"/>
<rect x="766" y="518" width="1" height="17" fill="#ef5350"/>
<rect x="765" y="526" width="3" height="8" fill="#ef5350"/>
<rect x="771" y="533" width="1" height="19" fill="#ef5350"/>
<rect x="770" y="534" width="3" height="17" fill="#ef5350"/>
<rect x="776" y="540" width="1" height="10" fill="#26a69a"/>
<rect x="775" y="543" width="3" height="7" fill="#26a69a"/>
<rect x="781" y="529" width="1" height="31" fill="#ef5350"/>
<rect x="780" y="543" width="3" height="11" fill="#ef5350"/>
<rect x="786" y="523" width="1" height="31" fill="#26a69a"/>
<rect x="785" y="523" width="3" height="31" fill="#26a69a"/>
<rect x="791" y="509" width="1" height="18" fill="#26a69a"/>
<rect x="790" y="522" width="3" height="5" fill="#26a69a"/>
<rect x="796" y="520" width="1" height="23" fill="#ef5350"/>
<rect x="795" y="522" width="3" height="18" fill="#ef5350"/>
<rect x="800" y="532" width="1" height="10" fill="#26a69a"/>
<rect x="799" y="535" width="3" height="5" fill="#26a69a"/>
<rect x="805" y="524" width="1" height="15" fill="#26a69a"/>
<rect x="804" y="527" width="3" height="8" fill="#26a69a"/>
<rect x="810" y="519" width="1" height="25" fill="#ef5350"/>
<rect x="809" y="529" width="3" height="15" fill="#ef5350"/>
<rect x="815" y="542" width="1" height="24" fill="#ef5350"/>
<rect x="814" y="543" width="3" height="11" fill="#ef5350"/>
<rect x="820" y="551" width="1" height="42" fill="#ef5350"/>
<rect x="819" y="553" width="3" height="40" fill="#ef5350"/>
<rect x="825" y="576" width="1" height="21" fill="#26a69a"/>
<rect x="824" y="583" width="3" height="10" fill="#26a69a"/>
<rect x="830" y="574" width="1" height="15" fill="#ef5350"/>
<rect x="829" y="582" width="3" height="2" fill="#ef5350"/>
<rect x="835" y="562" width="1" height="30" fill="#26a69a"/>
<rect x="834" y="568" width="3" height="18" fill="#26a69a"/>
<rect x="839" y="553" width="1" height="16" fill="#26a69a"/>
<rect x="838" y="560" width="3" height="9" fill="#26a69a"/>
<rect x="844" y="557" width="1" height="24" fill="#ef5350"/>
<rect x="843" y="560" width="3" height="14" fill="#ef5350"/>
<rect x="849" y="531" width="1" height="47" fill="#26a69a"/>
<rect x="848" y="536" width="3" height="38" fill="#26a69a"/>
<rect x="854" y="452" width="1" height="84" fill="#26a69a"/>
<rect x="853" y="454" width="3" height="82" fill="#26a69a"/>
<rect x="859" y="397" width="1" height="58" fill="#26a69a"/>
<rect x="858" y="404" width="3" height="51" fill="#26a69a"/>
<rect x="864" y="402" width="1" height="58" fill="#ef5350"/>
<rect x="863" y="404" width="3" height="51" fill="#ef5350"/>
<rect x="869" y="425" width="1" height="66" fill="#ef5350"/>
<rect x="868" y="454" width="3" height="3" fill="#ef5350"/>
<rect x="874" y="435" width="1" height="67" fill="#26a69a"/>
<rect x="873" y="452" width="3" height="5" fill="#26a69a"/>
<rect x="878" y="430" width="1" height="57" fill="#ef5350"/>
<rect x="877" y="452" width="3" height="6" fill="#ef5350"/>
<rect x="883" y="409" width="1" height="62" fill="#26a69a"/>
<rect x="882" y="419" width="3" height="39" fill="#26a69a"/>
<rect x="888" y="348" width="1" height="85" fill="#ef5350"/>
<rect x="887" y="419" width="3" height="9" fill="#ef5350"/>
<rect x="893" y="378" width="1" height="53" fill="#26a69a"/>
<rect x="892" y="389" width="3" height="39" fill="#26a69a"/>
<rect x="898" y="389" width="1" height="62" fill="#ef5350"/>
<rect x="897" y="389" width="3" height="35" fill="#ef5350"/>
<rect x="903" y="371" width="1" height="75" fill="#ef5350"/>
<rect x="902" y="424" width="3" height="8" fill="#ef5350"/>
<rect x="908" y="412" width="1" height="39" fill="#ef5350"/>
<rect x="907" y="432" width="3" height="14" fill="#ef5350"/>
<rect x="913" y="424" width="1" height="34" fill="#26a69a"/>
<rect x="912" y="432" width="3" height="14" fill="#26a69a"/>
<rect x="917" y="417" width="1" height="36" fill="#ef5350"/>
<rect x="916" y="432" width="3" height="14" fill="#ef5350"/>
<rect x="922" y="444" width="1" height="38" fill="#ef5350"/>
<rect x="921" y="447" width="3" height="35" fill="#ef5350"/>
<rect x="927" y="463" width="1" height="26" fill="#26a69a"/>
<rect x="926" y="474" width="3" height="8" fill="#26a69a"/>
<rect x="932" y="440" width="1" height="35" fill="#26a69a"/>
<rect x="931" y="450" width="3" height="25" fill="#26a69a"/>
<rect x="937" y="433" width="1" height="32" fill="#26a69a"/>
<rect x="936" y="443" width="3" height="8" fill="#26a69a"/>
<rect x="942" y="434" width="1" height="21" fill="#26a69a"/>
<rect x="941" y="440" width="3" height="5" fill="#26a69a"/>
<rect x="947" y="437" width="1" height="24" fill="#ef5350"/>
<rect x="946" y="440" width="3" height="18" fill="#ef5350"/>
<rect x="952" y="448" width="1" height="23" fill="#26a69a"/>
<rect x="951" y="448" width="3" height="9" fill="#26a69a"/>
<rect x="956" y="446" width="1" height="32" fill="#ef5350"/>
<rect x="955" y="447" width="3" height="26" fill="#ef5350"/>
<rect x="961" y="469" width="1" height="21" fill="#ef5350"/>
<rect x="960" y="473" width="3" height="11" fill="#ef5350"/>
<rect x="966" y="474" width="1" height="22" fill="#26a69a"/>
<rect x="965" y="479" width="3" height="5" fill="#26a69a"/>
<rect x="971" y="459" width="1" height="25" fill="#26a69a"/>
<rect x="970" y="460" width="3" height="19" fill="#26a69a"/>
<rect x="976" y="458" width="1" height="13" fill="#ef5350"/>
<rect x="975" y="461" width="3" height="8" fill="#ef5350"/>
<rect x="981" y="466" width="1" height="17" fill="#ef5350"/>
<rect x="980" y="469" width="3" height="11" fill="#ef5350"/>
<rect x="986" y="479" width="1" height="47" fill="#ef5350"/>
<rect x="985" y="479" width="3" height="38" fill="#ef5350"/>
<rect x="991" y="501" width="1" height="25" fill="#26a69a"/>
<rect x="990" y="506" width="3" height="11" fill="#26a69a"/>
<rect x="995" y="479" width="1" height="31" fill="#26a69a"/>
<rect x="994" y="494" width="3" height="13" fill="#26a69a"/>
<rect x="1000" y="474" width="1" height="22" fill="#26a69a"/>
<rect x="999" y="480" width="3" height="14" fill="#26a69a"/>
<rect x="1005" y="467" width="1" height="43" fill="#ef5350"/>
<rect x="1004" y="489" width="3" height="15" fill="#ef5350"/>
<rect x="1010" y="446" width="1" height="74" fill="#26a69a"/>
<rect x="1009" y="449" width="3" height="55" fill="#26a69a"/>
<rect x="1015" y="434" width="1" height="29" fill="#26a69a"/>
<rect x="1014" y="444" width="3" height="6" fill="#26a69a"/>
<rect x="1020" y="414" width="1" height="52" fill="#26a69a"/>
<rect x="1019" y="426" width="3" height="19" fill="#26a69a"/>
<rect x="1025" y="416" width="1" height="38" fill="#ef5350"/>
<rect x="1024" y="426" width="3" height="23" fill="#ef5350"/>
<rect x="1030" y="421" width="1" height="34" fill="#26a69a"/>
<rect x="1029" y="436" width="3" height="12" fill="#26a69a"/>
<rect x="1034" y="434" width="1" height="28" fill="#ef5350"/>
<rect x="1033" y="436" width="3" height="23" fill="#ef5350"/>
<rect x="1039" y="448" width="1" height="26" fill="#26a69a"/>
<rect x="1038" y="452" width="3" height="7" fill="#26a69a"/>
<rect x="1044" y="450" width="1" height="19" fill="#ef5350"/>
<rect x="1043" y="452" width="3" height="11" fill="#ef5350"/>
<rect x="1049" y="448" width="1" height="22" fill="#26a69a"/>
<rect x="1048" y="456" width="3" height="5" fill="#26a69a"/>
<rect x="1054" y="391" width="1" height="71" fill="#26a69a"/>
<rect x="1053" y="401" width="3" height="56" fill="#26a69a"/>
<rect x="1059" y="394" width="1" height="23" fill="#ef5350"/>
<rect x="1058" y="401" width="3" height="8" fill="#ef5350"/>
<rect x="1064" y="367" width="1" height="42" fill="#26a69a"/>
<rect x="1063" y="379" width="3" height="30" fill="#26a69a"/>
<rect x="1069" y="352" width="1" height="33" fill="#26a69a"/>
<rect x="1068" y="364" width="3" height="16" fill="#26a69a"/>
<rect x="1074" y="347" width="1" height="35" fill="#ef5350"/>
<rect x="1073" y="365" width="3" height="11" fill="#ef5350"/>
<rect x="1078" y="342" width="1" height="34" fill="#26a69a"/>
<rect x="1077" y="357" width="3" height="19" fill="#26a69a"/>
<rect x="1083" y="351" width="1" height="20" fill="#ef5350"/>
<rect x="1082" y="357" width="3" height="9" fill="#ef5350"/>
<rect x="1088" y="307" width="1" height="59" fill="#26a69a"/>
<rect x="1087" y="316" width="3" height="50" fill="#26a69a"/>
<rect x="1093" y="297" width="1" height="35" fill="#26a69a"/>
<rect x="1092" y="311" width="3" height="6" fill="#26a69a"/>
<rect x="1098" y="274" width="1" height="50" fill="#26a69a"/>
<rect x="1097" y="297" width="3" height="14" fill="#26a69a"/>
<rect x="1103" y="295" width="1" height="51" fill="#ef5350"/>
<rect x="1102" y="297" width="3" height="39" fill="#ef5350"/>
<rect x="1108" y="316" width="1" height="33" fill="#26a69a"/>
<rect x="1107" y="333" width="3" height="3" fill="#26a69a"/>
<rect x="1113" y="321" width="1" height="21" fill="#ef5350"/>
<rect x="1112" y="333" width="3" height="6" fill="#ef5350"/>
<rect x="1117" y="333" width="1" height="28" fill="#ef5350"/>
<rect x="1116" y="338" width="3" height="12" fill="#ef5350"/>
<rect x="1122" y="333" width="1" height="39" fill="#ef5350"/>
<rect x="1121" y="349" width="3" height="15" fill="#ef5350"/>
<rect x="1127" y="320" width="1" height="44" fill="#26a69a"/>
<rect x="1126" y="322" width="3" height="42" fill="#26a69a"/>
<rect x="1132" y="305" width="1" height="26" fill="#ef5350"/>
<rect x="1131" y="321" width="3" height="2" fill="#ef5350"/>
<rect x="1137" y="322" width="1" height="28" fill="#ef5350"/>
<rect x="1136" y="322" width="3" height="17" fill="#ef5350"/>
<rect x="1142" y="335" width="1" height="21" fill="#ef5350"/>
<rect x="1141" y="338" width="3" height="7" fill="#ef5350"/>
<rect x="1147" y="323" width="1" height="32" fill="#26a69a"/>
<rect x="1146" y="334" width="3" height="11" fill="#26a69a"/>
<rect x="1152" y="326" width="1" height="32" fill="#ef5350"/>
<rect x="1151" y="334" width="3" height="24" fill="#ef5350"/>
<rect x="1156" y="342" width="1" height="33" fill="#ef5350"/>
<rect x="1155" y="357" width="3" height="17" fill="#ef5350"/>
<rect x="1161" y="360" width="1" height="27" fill="#ef5350"/>
<rect x="1160" y="370" width="3" height="5" fill="#ef5350"/>
<rect x="1166" y="357" width="1" height="26" fill="#ef5350"/>
<rect x="1165" y="374" width="3" height="9" fill="#ef5350"/>
<rect x="1171" y="378" width="1" height="26" fill="#ef5350"/>
<rect x="1170" y="382" width="3" height="12" fill="#ef5350"/>
<rect x="1176" y="380" width="1" height="14" fill="#26a69a"/>
<rect x="1175" y="388" width="3" height="6" fill="#26a69a"/>
<rect x="1181" y="374" width="1" height="15" fill="#26a69a"/>
<rect x="1180" y="377" width="3" height="12" fill="#26a69a"/>
<rect x="1186" y="368" width="1" height="26" fill="#26a69a"/>
<rect x="1185" y="369" width="3" height="8" fill="#26a69a"/>
<rect x="1191" y="358" width="1" height="23" fill="#ef5350"/>
<rect x="1190" y="370" width="3" height="9" fill="#ef5350"/>
<rect x="1195" y="338" width="1" height="48" fill="#26a69a"/>
<rect x="1194" y="346" width="3" height="33" fill="#26a69a"/>
<rect x="1200" y="330" width="1" height="23" fill="#26a69a"/>
<rect x="1199" y="342" width="3" height="4" fill="#26a69a"/>
<circle cx="1200.5" cy="616.4" r="9.7" fill="#ffffff" stroke="#9c27b0" stroke-width="1.4"/>
<path d="M1204,611 L1196.2,616.9 L1200.3,616.9 L1197,622 L1204.8,616 L1200.6,616 Z" fill="#9c27b0"/>
</g>
<g clip-path="url(#cr)">
<polyline points="10.2,747.2 14.6,747.2 25.6,743.5 34.4,741.3 43.2,732.9 54.3,719.7 63.1,713.1 74.1,708.7 82.9,709.1 96.1,712.0 104.9,713.1 118.1,719.7 131.3,723.5 142.4,719.7 151.2,717.5 162.2,717.5 166.6,714.2 173.2,710.9 184.2,701.0 195.2,692.2 206.2,683.4 217.3,675.7 225.0,673.9 232.7,676.8 241.5,688.9 250.3,706.5 261.3,719.7 272.3,729.6 283.3,741.7 294.3,746.1 300.0,745.0 303.2,745.0 308.0,742.8 317.6,739.5 326.4,743.9 333.0,747.2 341.9,748.3 348.5,751.7 361.7,763.8 372.7,769.3 382.6,772.1 390.3,767.7 400.2,755.0 407.9,749.4 416.7,739.5 427.8,728.5 436.6,725.2 443.2,723.7 448.7,720.8 458.6,721.9 467.4,725.9 476.2,730.7 482.8,737.8 491.6,742.8 502.6,745.7 511.5,745.0 522.5,745.7 533.5,755.0 542.3,759.8 551.1,760.9 562.1,760.5 568.7,762.7 577.5,765.3 586.3,765.3 590.0,764.9 595.2,763.3 600.0,761.1 603.2,760.5 614.2,763.3 623.0,767.1 634.1,770.4 642.9,770.8 651.7,777.0 660.5,783.6 673.7,785.8 682.5,785.4 693.5,783.6 704.5,781.4 715.6,776.5 724.4,769.3 735.4,763.8 746.4,757.2 753.0,750.6 764.0,745.7 777.2,746.6 783.8,747.2 794.8,743.9 804.8,740.0 814.7,743.9 821.3,750.6 830.1,756.1 843.3,756.1 852.1,748.3 860.9,738.4 874.1,729.6 880.0,721.9 886.6,712.0 890.0,706.5 893.2,702.1 902.0,692.2 908.6,687.8 915.2,682.7 919.6,684.5 927.4,693.7 937.3,696.6 946.1,699.9 954.9,706.5 961.5,713.1 968.1,717.5 976.9,720.8 985.7,727.0 996.7,730.7 1006.7,735.1 1014.4,734.0 1025.4,730.7 1034.2,726.8 1047.4,725.2 1056.2,716.4 1065.0,707.6 1073.8,697.7 1080.4,693.7 1089.3,688.9 1098.1,680.1 1106.9,675.2 1116.8,670.6 1122.3,671.9 1130.0,671.3 1140.4,676.6 1150.9,681.8 1158.7,693.6 1167.9,704.7 1179.6,714.5 1190.1,718.4 1200.5,721.0" fill="none" stroke="#fdd835" stroke-width="1" stroke-linejoin="round" stroke-linecap="round"/>
<polyline points="5.5,743.9 10.5,730.7 15.5,729.6 20.5,702.1 25.5,687.1 30.5,712.0 35.5,697.7 40.5,676.1 44.5,699.9 49.5,683.4 54.5,698.8 59.5,702.1 64.5,727.4 69.5,745.0 74.5,730.3 79.5,750.1 83.5,710.9 88.5,714.2 93.5,706.5 98.5,731.8 103.5,693.7 108.5,707.6 113.5,717.5 118.5,726.3 122.5,728.5 127.5,726.8 132.5,736.2 137.5,723.0 142.5,714.2 147.5,718.6 152.5,703.2 157.5,715.3 162.5,706.1 166.5,680.1 171.5,668.0 176.5,654.7 181.5,647.0 186.5,665.7 191.5,674.6 196.5,683.4 201.5,681.2 205.5,677.9 210.5,658.0 215.5,652.5 220.5,681.2 225.5,701.0 230.5,728.5 235.5,755.0 240.5,771.5 244.5,762.7 249.5,790.2 254.5,755.0 259.5,748.3 264.5,738.4 269.5,745.0 274.5,750.6 279.5,736.2 283.5,710.9 288.5,720.8 293.5,724.1 298.5,731.8 303.5,738.4 308.5,752.3 313.5,739.5 318.5,758.3 322.5,790.2 327.5,794.2 332.5,770.4 337.5,749.4 342.5,764.9 347.5,774.8 352.5,778.1 357.5,784.0 361.5,772.1 366.5,767.1 371.5,762.7 376.5,777.0 381.5,769.3 386.5,735.6 391.5,740.6 396.5,707.6 400.5,690.6 405.5,695.9 410.5,690.0 415.5,687.8 420.5,709.8 425.5,723.7 430.5,726.3 435.5,734.0 440.5,749.4 444.5,758.3 449.5,737.3 454.5,757.2 459.5,727.4 464.5,741.7 469.5,729.6 474.5,731.8 479.5,751.7 483.5,753.9 488.5,751.7 493.5,758.9 498.5,748.8 503.5,747.7 508.5,740.6 513.5,746.1 518.5,744.6 522.5,757.2 527.5,785.8 532.5,807.4 537.5,785.4 542.5,766.4 547.5,766.0 552.5,741.3 557.5,752.8 561.5,751.0 566.5,756.7 571.5,774.8 576.5,780.3 581.5,749.4 586.5,741.3 591.5,751.0 596.5,769.9 600.5,770.4 605.5,779.2 610.5,781.4 615.5,792.0 620.5,779.2 625.5,774.8 630.5,778.7 635.5,766.0 639.5,774.8 644.5,783.6 649.5,790.2 654.5,806.7 659.5,819.5 664.5,784.0 669.5,789.8 674.5,778.7 678.5,778.7 683.5,785.8 688.5,767.7 693.5,774.8 698.5,755.0 703.5,752.3 708.5,758.9 713.5,752.3 717.5,749.9 722.5,757.2 727.5,770.4 732.5,764.9 737.5,749.4 742.5,726.3 747.5,731.8 752.5,706.9 757.5,725.2 761.5,745.0 766.5,752.3 771.5,764.2 776.5,757.2 781.5,766.0 786.5,732.9 791.5,729.6 796.5,747.2 800.5,742.8 805.5,735.1 810.5,749.4 815.5,759.4 820.5,789.1 825.5,779.6 830.5,780.9 835.5,759.8 839.5,748.8 844.5,762.0 849.5,719.7 854.5,665.7 859.5,643.7 864.5,685.6 869.5,687.8 874.5,684.9 878.5,690.0 883.5,670.2 888.5,676.8 893.5,659.1 898.5,686.7 903.5,695.5 908.5,705.4 913.5,696.6 917.5,709.8 922.5,733.4 927.5,727.4 932.5,712.0 937.5,706.9 942.5,705.4 947.5,718.6 952.5,713.1 956.5,732.5 961.5,741.7 966.5,737.3 971.5,720.8 976.5,729.0 981.5,737.3 986.5,764.9 991.5,755.4 995.5,745.0 1000.5,741.7 1005.5,751.7 1010.5,704.7 1015.5,701.7 1020.5,688.9 1025.5,708.7 1030.5,701.0 1034.5,720.8 1039.5,715.3 1044.5,724.6 1049.5,720.2 1054.5,680.1 1059.5,687.1 1064.5,670.2 1069.5,662.9 1074.5,674.6 1078.5,664.2 1083.5,672.4 1088.5,647.7 1093.5,645.9 1098.5,640.0 1103.5,679.0 1108.5,677.9 1113.5,683.4 1117.5,695.5 1122.5,707.6 1127.5,680.5 1132.5,680.5 1137.5,696.2 1142.5,703.3 1147.5,694.9 1152.5,714.2 1156.5,728.8 1161.5,732.1 1166.5,739.3 1171.5,749.1 1176.5,743.2 1181.5,733.4 1186.5,724.9 1191.5,733.4 1195.5,701.4 1200.5,697.5" fill="none" stroke="#7e57c2" stroke-width="3" stroke-linejoin="round" stroke-linecap="round"/>
</g>
</svg>
<div class="ax" style="top:597.4px">20.000</div>
<div class="ax" style="top:562.6px">22.500</div>
<div class="ax" style="top:527.9px">25.000</div>
<div class="ax" style="top:493.1px">27.500</div>
<div class="ax" style="top:458.4px">30.000</div>
<div class="ax" style="top:423.6px">32.500</div>
<div class="ax" style="top:388.9px">35.000</div>
<div class="ax" style="top:354.1px">37.500</div>
<div class="ax" style="top:319.4px">40.000</div>
<div class="ax" style="top:284.6px">42.500</div>
<div class="ax" style="top:249.9px">45.000</div>
<div class="ax" style="top:215.1px">47.500</div>
<div class="ax" style="top:180.3px">50.000</div>
<div class="ax" style="top:145.6px">52.500</div>
<div class="ax" style="top:110.8px">55.000</div>
<div class="ax" style="top:76.1px">57.500</div>
<div class="ax" style="top:644.5px">70.00</div>
<div class="ax" style="top:682.2px">60.00</div>
<div class="ax" style="top:720.0px">50.00</div>
<div class="ax" style="top:757.8px">40.00</div>
<div class="ax" style="top:795.5px">30.00</div>

<svg width="1362" height="919" viewBox="0 0 1362 919" style="font-family:'Liberation Sans',sans-serif">
<text x="18.4" y="45.5" font-size="12" fill="#131722" font-weight="normal" text-anchor="start" textLength="60.2" lengthAdjust="spacingAndGlyphs">Hyperliquid</text>
<text x="88.2" y="45.5" font-size="12" fill="#131722" font-weight="normal" text-anchor="middle">/</text>
<text x="94" y="45.5" font-size="12" fill="#131722" font-weight="normal" text-anchor="start" textLength="33.8" lengthAdjust="spacingAndGlyphs">Tether</text>
<text x="134.4" y="45.5" font-size="12" fill="#131722" font-weight="normal" text-anchor="middle">·</text>
<text x="140.3" y="45.5" font-size="12" fill="#131722" font-weight="normal" text-anchor="start" textLength="12.5" lengthAdjust="spacingAndGlyphs">1D</text>
<text x="159.3" y="45.5" font-size="12" fill="#131722" font-weight="normal" text-anchor="middle">·</text>
<text x="165.2" y="45.5" font-size="12" fill="#131722" font-weight="normal" text-anchor="start" textLength="36.0" lengthAdjust="spacingAndGlyphs">KuCoin</text>
<text x="209" y="45.5" font-size="12" fill="#131722" font-weight="normal" text-anchor="start" textLength="8" lengthAdjust="spacingAndGlyphs">O</text>
<text x="217.2" y="45.5" font-size="12" fill="#26a69a" font-weight="normal" text-anchor="start" textLength="35.1" lengthAdjust="spacingAndGlyphs">38.639</text>
<text x="260.4" y="45.5" font-size="12" fill="#131722" font-weight="normal" text-anchor="start" textLength="7.0" lengthAdjust="spacingAndGlyphs">H</text>
<text x="267.7" y="45.5" font-size="12" fill="#26a69a" font-weight="normal" text-anchor="start" textLength="34.7" lengthAdjust="spacingAndGlyphs">39.821</text>
<text x="311.8" y="45.5" font-size="12" fill="#131722" font-weight="normal" text-anchor="start" textLength="4.9" lengthAdjust="spacingAndGlyphs">L</text>
<text x="317.6" y="45.5" font-size="12" fill="#26a69a" font-weight="normal" text-anchor="start" textLength="35.0" lengthAdjust="spacingAndGlyphs">38.130</text>
<text x="360.5" y="45.5" font-size="12" fill="#131722" font-weight="normal" text-anchor="start" textLength="6.5" lengthAdjust="spacingAndGlyphs">C</text>
<text x="367.6" y="45.5" font-size="12" fill="#26a69a" font-weight="normal" text-anchor="start" textLength="35.0" lengthAdjust="spacingAndGlyphs">38.936</text>
<text x="411.1" y="45.5" font-size="12" fill="#26a69a" font-weight="normal" text-anchor="start" textLength="34.7" lengthAdjust="spacingAndGlyphs">+0.314</text>
<text x="450.8" y="45.5" font-size="12" fill="#26a69a" font-weight="normal" text-anchor="start" textLength="43.5" lengthAdjust="spacingAndGlyphs">(+0.81%)</text>
<text x="18.2" y="62.7" font-size="12" fill="#131722" font-weight="normal" text-anchor="start" textLength="81.7" lengthAdjust="spacingAndGlyphs">EMA (20, close)</text>
<text x="107.6" y="62.7" font-size="12" fill="#2962ff" font-weight="normal" text-anchor="start" textLength="35.3" lengthAdjust="spacingAndGlyphs">37.287</text>
<text x="18.2" y="79.7" font-size="12" fill="#131722" font-weight="normal" text-anchor="start" textLength="81.2" lengthAdjust="spacingAndGlyphs">SMA (50, close)</text>
<text x="107.4" y="79.7" font-size="12" fill="#f23645" font-weight="normal" text-anchor="start" textLength="34.9" lengthAdjust="spacingAndGlyphs">34.806</text>
<text x="18.6" y="648.8" font-size="12" fill="#131722" font-weight="normal" text-anchor="start" textLength="75.3" lengthAdjust="spacingAndGlyphs">RSI (14, close)</text>
<text x="102.3" y="648.8" font-size="12" fill="#7e57c2" font-weight="normal" text-anchor="start" textLength="28.4" lengthAdjust="spacingAndGlyphs">57.97</text>
<text x="139" y="648.8" font-size="12" fill="#fdd835" font-weight="normal" text-anchor="start" textLength="28.7" lengthAdjust="spacingAndGlyphs">51.79</text>
<rect x="1289.5" y="30.5" width="59" height="27" rx="6" ry="6" fill="#fff" stroke="#eceef2" stroke-width="1"/>
<text x="1299.4" y="48.8" font-size="12" fill="#131722" font-weight="normal" text-anchor="start" textLength="27.6" lengthAdjust="spacingAndGlyphs">USDT</text>
<text x="49.1" y="896" font-size="20.5" fill="#131722" font-weight="bold" text-anchor="start" textLength="120.5" lengthAdjust="spacingAndGlyphs">TradingView</text>
</svg>
<svg width="1362" height="919" viewBox="0 0 1362 919" style="font-family:'Liberation Sans',sans-serif">
<path d="M1225,334 H1286 Q1286,334 1286,334 V351 Q1286,351 1286,351 H1225 Q1222,351 1222,348 V337 Q1222,334 1225,334 Z" fill="#26a69a"/>
<text x="1226.4" y="347" font-size="12" fill="#fff" font-weight="bold" text-anchor="start" textLength="55.3" lengthAdjust="spacingAndGlyphs">HYPEUSDT</text>
<path d="M1287,334 H1344 Q1347,334 1347,337 V376 Q1347,379 1344,379 H1287 Q1287,379 1287,379 V334 Q1287,334 1287,334 Z" fill="#26a69a"/>
<text x="1295.3" y="346.8" font-size="12" fill="#fff" font-weight="bold" text-anchor="start" textLength="35.2" lengthAdjust="spacingAndGlyphs">38.936</text>
<text x="1295.3" y="361.1" font-size="12" fill="#fff" font-weight="bold" text-anchor="start" textLength="36.6" lengthAdjust="spacingAndGlyphs">+2.24%</text>
<text x="1295.2" y="374.8" font-size="12" fill="#fff" font-weight="bold" text-anchor="start" textLength="46.4" lengthAdjust="spacingAndGlyphs" fill-opacity="0.75">09:31:49</text>
<path d="M1258,379 H1286 Q1286,379 1286,379 V396 Q1286,396 1286,396 H1258 Q1255,396 1255,393 V382 Q1255,379 1258,379 Z" fill="#2962ff"/>
<text x="1260" y="391.5" font-size="12" fill="#fff" font-weight="bold" text-anchor="start" textLength="22.5" lengthAdjust="spacingAndGlyphs">EMA</text>
<path d="M1287,379 H1333 Q1336,379 1336,382 V393 Q1336,396 1333,396 H1287 Q1287,396 1287,396 V379 Q1287,379 1287,379 Z" fill="#2962ff"/>
<text x="1295.3" y="391.5" font-size="12" fill="#fff" font-weight="bold" text-anchor="start" textLength="35.2" lengthAdjust="spacingAndGlyphs">37.287</text>
<path d="M1287,396 H1333 Q1336,396 1336,399 V410 Q1336,413 1333,413 H1287 Q1287,413 1287,413 V396 Q1287,396 1287,396 Z" fill="#0000ff"/>
<text x="1295.3" y="408.8" font-size="12" fill="#fff" font-weight="bold" text-anchor="start" textLength="35.2" lengthAdjust="spacingAndGlyphs">36.770</text>
<path d="M1239,413 H1286 Q1286,413 1286,413 V430 Q1286,430 1286,430 H1239 Q1236,430 1236,427 V416 Q1236,413 1239,413 Z" fill="#f23645"/>
<text x="1240.7" y="425.5" font-size="12" fill="#fff" font-weight="bold" text-anchor="start" textLength="41.8" lengthAdjust="spacingAndGlyphs">SMA:MA</text>
<path d="M1287,413 H1333 Q1336,413 1336,416 V427 Q1336,430 1333,430 H1287 Q1287,430 1287,430 V413 Q1287,413 1287,413 Z" fill="#f23645"/>
<text x="1295.3" y="425.5" font-size="12" fill="#fff" font-weight="bold" text-anchor="start" textLength="35.2" lengthAdjust="spacingAndGlyphs">34.806</text>
<path d="M1287,585 H1333 Q1336,585 1336,588 V599 Q1336,602 1333,602 H1287 Q1287,602 1287,602 V585 Q1287,585 1287,585 Z" fill="#0000ff"/>
<text x="1295.0" y="597.4" font-size="12" fill="#fff" font-weight="bold" text-anchor="start" textLength="35.7" lengthAdjust="spacingAndGlyphs">20.820</text>
<path d="M1264,690 H1286 Q1286,690 1286,690 V707 Q1286,707 1286,707 H1264 Q1261,707 1261,704 V693 Q1261,690 1264,690 Z" fill="#7e57c2"/>
<text x="1266" y="702.3" font-size="12" fill="#fff" font-weight="bold" text-anchor="start" textLength="15.6" lengthAdjust="spacingAndGlyphs">RSI</text>
<path d="M1287,690 H1327 Q1330,690 1330,693 V704 Q1330,707 1327,707 H1287 Q1287,707 1287,707 V690 Q1287,690 1287,690 Z" fill="#7e57c2"/>
<text x="1295.2" y="702.3" font-size="12" fill="#fff" font-weight="bold" text-anchor="start" textLength="29.3" lengthAdjust="spacingAndGlyphs">57.97</text>
<path d="M1210,713 H1286 Q1286,713 1286,713 V730 Q1286,730 1286,730 H1210 Q1207,730 1207,727 V716 Q1207,713 1210,713 Z" fill="#fdd835"/>
<text x="1211.6" y="725.6" font-size="12" fill="#131722" font-weight="normal" text-anchor="start" textLength="70.6" lengthAdjust="spacingAndGlyphs">RSI-based MA</text>
<path d="M1287,713 H1327 Q1330,713 1330,716 V727 Q1330,730 1327,730 H1287 Q1287,730 1287,730 V713 Q1287,713 1287,713 Z" fill="#fdd835"/>
<text x="1296" y="725.6" font-size="12" fill="#131722" font-weight="normal" text-anchor="start" textLength="28.5" lengthAdjust="spacingAndGlyphs">51.79</text>
</svg>
<div class="tm" style="left:133px">Sep</div>
<div class="tm" style="left:280px">Oct</div>
<div class="tm" style="left:430px">Nov</div>
<div class="tm" style="left:577px">Dec</div>
<div class="tm" style="left:727px;font-weight:bold">2026</div>
<div class="tm" style="left:878px">Feb</div>
<div class="tm" style="left:1016px">Mar</div>
<div class="tm" style="left:1166px">Apr</div>
<svg width="40" height="20" style="left:10px;top:878px" viewBox="10 878 40 20">
<path d="M12,881 H24 V896 H18 V887 H12 Z" fill="#131722"/>
<circle cx="29" cy="884" r="2.8" fill="#131722"/>
<path d="M34.4,881 H41.8 L36.2,896 H29.1 Z" fill="#131722"/>
</svg>

</body></html>
